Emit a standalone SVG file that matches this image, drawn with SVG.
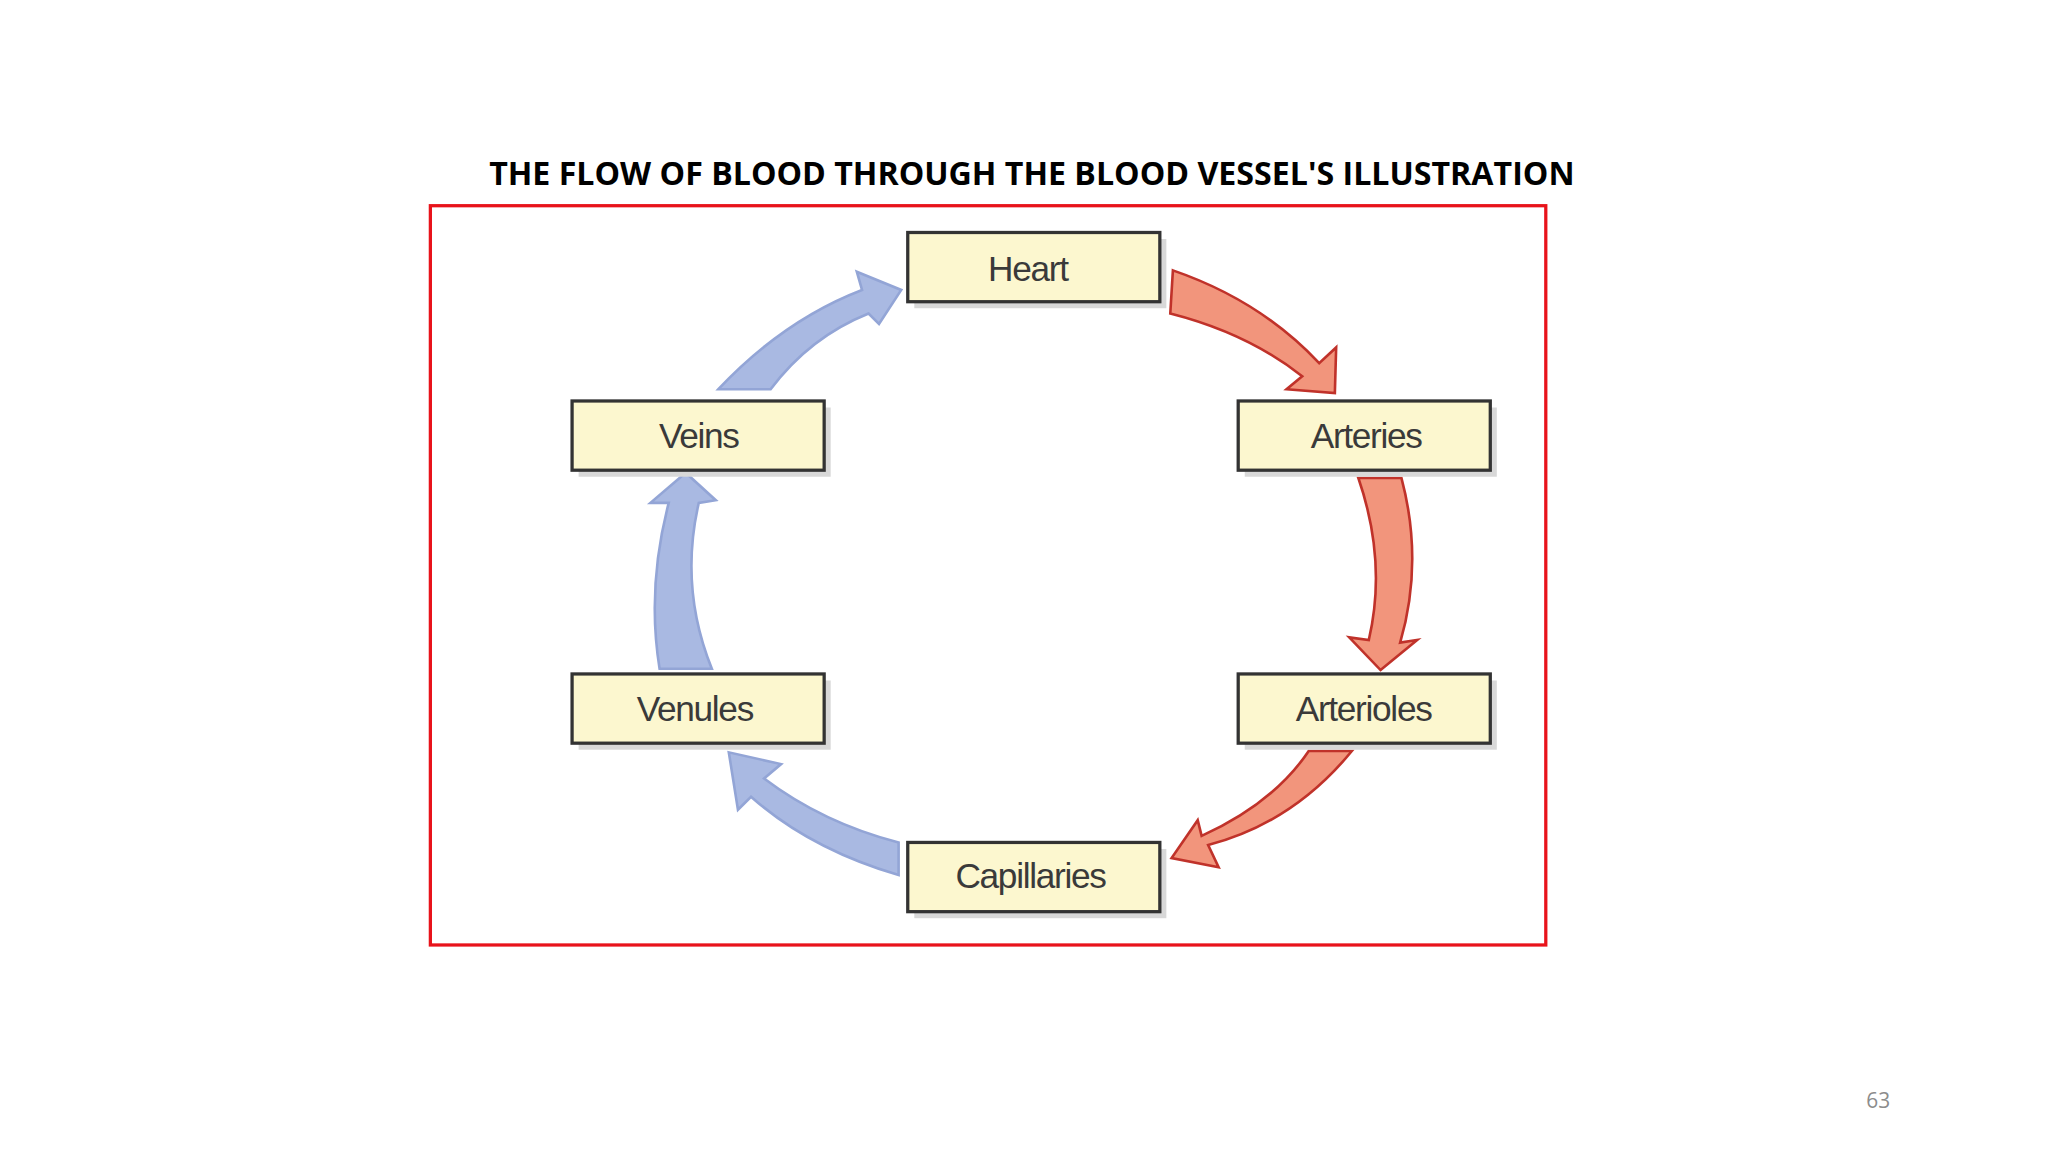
<svg xmlns="http://www.w3.org/2000/svg" width="2048" height="1152" viewBox="0 0 2048 1152">
<style>
.box{fill:#fcf7cf;stroke:#333;stroke-width:2.5}
.sh{fill:#d8d8d8}
.lbl{font-family:"Liberation Sans",Arial,sans-serif;font-size:27px;fill:#3a3a3a;text-anchor:middle;letter-spacing:-1px}
.red{fill:#f2957c;stroke:#c0322a;stroke-width:2}
.blue{fill:#a9b9e2;stroke:#93a5d6;stroke-width:2}
</style>
<rect width="2048" height="1152" fill="#fff"/>
<g transform="scale(1.30612)">
<text x="790" y="142" font-family="'Open Sans','Liberation Sans',sans-serif" font-weight="bold" font-size="24" text-anchor="middle" textLength="831" lengthAdjust="spacingAndGlyphs" fill="#000">THE FLOW OF BLOOD THROUGH THE BLOOD VESSEL'S ILLUSTRATION</text>
<rect x="329.5" y="157.5" width="854" height="566" fill="none" stroke="#e8131b" stroke-width="2.5"/>
<g id="connectors">
<path class="red" d="M898,207 Q965,230 1010,278 L1023,266 L1022,301 L985,298 L997,288 Q955,255 896,240 Z"/>
<path class="red" d="M1040,366 L1073,366 Q1090,430 1072,492 L1085,490 L1057,513 L1033,488 L1048,490 Q1062,430 1040,366 Z"/>
<path class="red" d="M1035,575 Q990,630 925,647 L933,664 L897,657 L917,628 L920,640 Q975,615 1002,575 Z"/>
<path class="blue" d="M688,645 L688,670 Q620,650 575,610 L565,620 L558,576 L598,585 L585,596 Q630,630 688,645 Z"/>
<path class="blue" d="M505,512 L545,512 Q520,450 535,385 L548,383 L525,362 L498,385 L512,385 Q495,450 505,512 Z"/>
<path class="blue" d="M550,298 L590,298 Q620,258 665,240 L673,248 L690,222 L656,208 L660,222 Q600,245 550,298 Z"/>
</g>
<g id="heart"><rect class="sh" x="700" y="183" width="193" height="53"/><rect class="box" x="695" y="178" width="193" height="53"/><text class="lbl" x="787" y="215">Heart</text></g>
<g id="veins"><rect class="sh" x="443" y="312" width="193" height="53"/><rect class="box" x="438" y="307" width="193" height="53"/><text class="lbl" x="535" y="343">Veins</text></g>
<g id="arteries"><rect class="sh" x="953" y="312" width="193" height="53"/><rect class="box" x="948" y="307" width="193" height="53"/><text class="lbl" x="1046" y="343">Arteries</text></g>
<g id="venules"><rect class="sh" x="443" y="521" width="193" height="53"/><rect class="box" x="438" y="516" width="193" height="53"/><text class="lbl" x="532" y="552">Venules</text></g>
<g id="arterioles"><rect class="sh" x="953" y="521" width="193" height="53"/><rect class="box" x="948" y="516" width="193" height="53"/><text class="lbl" x="1044" y="552">Arterioles</text></g>
<g id="capillaries"><rect class="sh" x="700" y="650" width="193" height="53"/><rect class="box" x="695" y="645" width="193" height="53"/><text class="lbl" x="789" y="680">Capillaries</text></g>
<text x="1438" y="848" font-family="'Open Sans','Liberation Sans',sans-serif" font-size="16" fill="#8c8c8c" text-anchor="middle">63</text>
</g>
</svg>
